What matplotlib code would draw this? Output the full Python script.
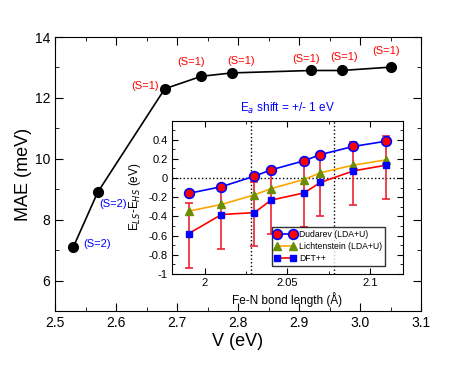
import numpy as np
import matplotlib
matplotlib.use("Agg")
import matplotlib.pyplot as plt
from matplotlib.ticker import MultipleLocator

plt.rcParams['font.family'] = ['Liberation Sans', 'DejaVu Sans']

# main panel: MAE vs V
v = [2.53, 2.57, 2.68, 2.74, 2.79, 2.92, 2.97, 3.05]
mae = [7.1, 8.9, 12.3, 12.71, 12.82, 12.9, 12.9, 13.01]
spin = ['(S=2)', '(S=2)', '(S=1)', '(S=1)', '(S=1)', '(S=1)', '(S=1)', '(S=1)']

# inset: E_LS - E_HS vs Fe-N bond length
bond = [1.99, 2.01, 2.03, 2.04, 2.06, 2.07, 2.09, 2.11]
dudarev = [-0.16, -0.09, 0.02, 0.085, 0.18, 0.245, 0.33, 0.385]
lichtenstein = [-0.345, -0.275, -0.175, -0.11, -0.015, 0.055, 0.135, 0.19]
dftpp = [-0.58, -0.38, -0.36, -0.23, -0.155, -0.045, 0.075, 0.135]
dftpp_lo = [-0.935, -0.735, -0.71, -0.585, -0.505, -0.40, -0.28, -0.22]
dftpp_hi = [-0.265, -0.09, -0.04, 0.085, 0.18, 0.245, 0.38, 0.44]
vlines = [2.028, 2.078]

fig = plt.figure(figsize=(4.74, 3.66), dpi=100)
ax = fig.add_axes([55 / 474, 1 - 311 / 366, 366 / 474, 274 / 366])

ax.plot(v, mae, '-o', color='black', lw=1.2, ms=7)
offsets = [(7, 2), (1, -8.5), (-24, 2), (-17.5, 10), (-3, 8.6), (-14, 8), (-8, 9.4), (-13, 11.5)]
for x, y, s, off in zip(v, mae, spin, offsets):
    col = 'blue' if s == '(S=2)' else 'red'
    ax.annotate(s, (x, y), xytext=off, textcoords='offset points',
                color=col, fontsize=8, va='center', ha='left')

ax.set_xlim(2.5, 3.1)
ax.set_ylim(5, 14)
ax.xaxis.set_major_locator(MultipleLocator(0.1))
ax.xaxis.set_minor_locator(MultipleLocator(0.05))
ax.yaxis.set_minor_locator(MultipleLocator(1))
ax.set_yticks([6, 8, 10, 12, 14])
ax.tick_params(which='both', direction='in', top=True, right=True, labelsize=10)
ax.tick_params(which='major', length=6)
ax.tick_params(which='minor', length=3)
ax.set_xlabel('V (eV)', fontsize=13, labelpad=2)
ax.set_ylabel('MAE (meV)', fontsize=13, labelpad=2)

# inset
ins = fig.add_axes([172 / 474, 1 - 274 / 366, 231 / 474, 153.5 / 366])
ins.axhline(0, color='black', ls=':', lw=1)
for xl in vlines:
    ins.axvline(xl, color='black', ls=':', lw=1)

err = [np.array(dftpp) - np.array(dftpp_lo), np.array(dftpp_hi) - np.array(dftpp)]
ins.errorbar(bond, dftpp, yerr=err, fmt='none', ecolor='#ee2233', elinewidth=1.2,
             capsize=3, capthick=1.2, zorder=2)
ins.plot(bond, dudarev, '-o', color='blue', mfc='red', mec='blue', mew=1.2,
         ms=7, lw=1.2, label='Dudarev (LDA+U)', zorder=4)
ins.plot(bond, lichtenstein, '-^', color='orange', mfc='#6b8e00', mec='#6b8e00',
         ms=5.5, lw=1.2, label='Lichtenstein (LDA+U)', zorder=3)
ins.plot(bond, dftpp, '-s', color='red', mfc='blue', mec='blue',
         ms=5, lw=1.2, label='DFT++', zorder=3)

ins.set_xlim(1.98, 2.12)
ins.set_ylim(-1, 0.6)
ins.set_xticks([2, 2.05, 2.1])
ins.set_xticklabels(['2', '2.05', '2.1'])
ins.xaxis.set_minor_locator(MultipleLocator(0.025))
ins.set_yticks([-1, -0.8, -0.6, -0.4, -0.2, 0, 0.2, 0.4])
ins.set_yticklabels(['-1', '-0.8', '-0.6', '-0.4', '-0.2', '0', '0.2', '0.4'])
ins.yaxis.set_minor_locator(MultipleLocator(0.1))
ins.tick_params(which='both', direction='in', top=True, right=True, labelsize=8, pad=3)
ins.tick_params(which='major', length=4)
ins.tick_params(which='minor', length=2)
ins.set_xlabel('Fe-N bond length (Å)', fontsize=8.5, labelpad=3)
ins.set_ylabel('E$_{LS}$-E$_{HS}$ (eV)', fontsize=8.5, labelpad=4)
ins.set_title('E$_a$ shift = +/- 1 eV', color='blue', fontsize=8.5, pad=6)

leg = ins.legend(loc='lower right', bbox_to_anchor=(0.922, 0.055), numpoints=2,
                 fontsize=6.2, frameon=True, fancybox=False, edgecolor='black',
                 handlelength=2.4, handletextpad=0.4, borderpad=0.35,
                 labelspacing=0.3, borderaxespad=0)
leg.get_frame().set_linewidth(1)

fig.savefig('out.png', dpi=100)
